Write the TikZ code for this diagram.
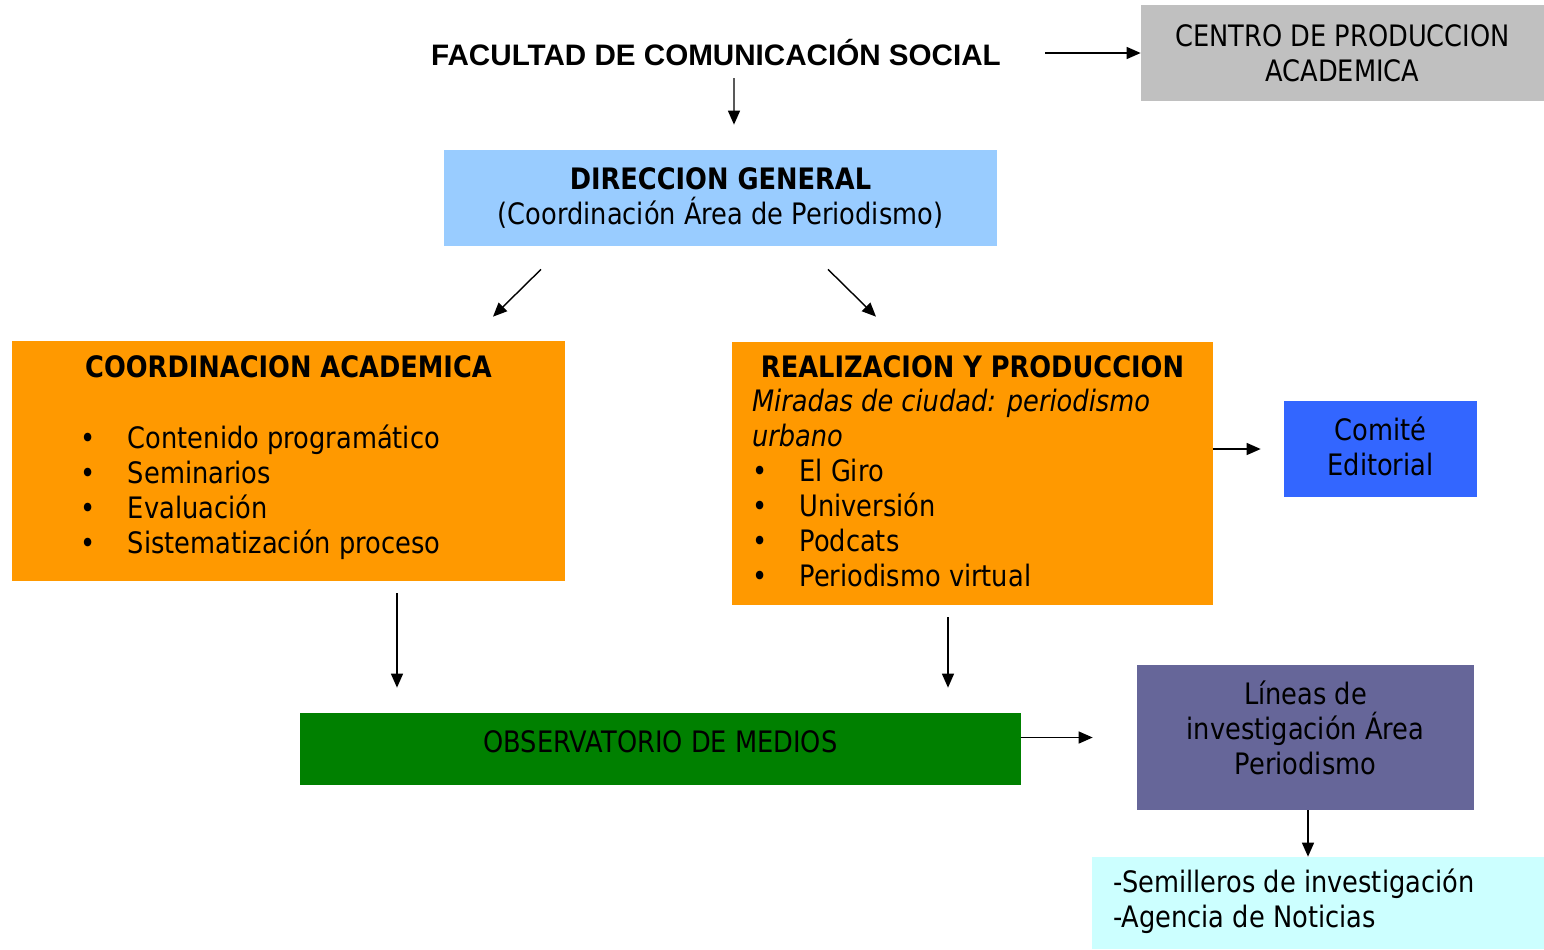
\documentclass[tikz,border=0pt]{standalone}
\usepackage{fontspec}
\setmainfont{DejaVu Sans}[FakeStretch=0.87]
\newfontfamily\titlefont{Liberation Sans}
\usetikzlibrary{arrows.meta, positioning}

\definecolor{grisbox}{HTML}{C0C0C0}
\definecolor{celeste}{HTML}{99CCFF}
\definecolor{naranja}{HTML}{FF9900}
\definecolor{azul}{HTML}{3366FF}
\definecolor{verde}{HTML}{008000}
\definecolor{morado}{HTML}{666699}
\definecolor{cian}{HTML}{CCFFFF}

\tikzset{
    box/.style={
        rectangle, draw=none, inner sep=0pt,
        align=center, font=\bodyfont
    },
    txt/.style={inner sep=0pt, font=\bodyfont},
    link/.style={draw=black, line width=0.8pt, -{Triangle[length=0.28cm, width=0.24cm]}}
}
\newcommand{\bodyfont}{\fontsize{16.8pt}{19.92pt}\selectfont}
\newcommand{\bul}[1]{\makebox[0.95cm][l]{\textbullet}#1}

\begin{document}
\begin{tikzpicture}
\useasboundingbox (0,0) rectangle (30.88,-18.98);

% top
\node[txt, font=\titlefont\bfseries\fontsize{16.85pt}{19pt}\selectfont, anchor=base] (title) at (14.32,-1.30) {FACULTAD DE COMUNICACIÓN SOCIAL};
\node[box, fill=grisbox, minimum width=8.06cm, minimum height=1.92cm] (centro) at (26.85,-1.06) {CENTRO DE PRODUCCION\\ACADEMICA};
\node[box, fill=celeste, minimum width=11.06cm, minimum height=1.92cm] (dir) at (14.41,-3.96) {\bfseries DIRECCION GENERAL\\(Coordinación Área de Periodismo)};

% middle row
\node[box, fill=naranja, minimum width=11.06cm, minimum height=4.80cm] (coord) at (5.77,-9.22) {};
\node[txt, anchor=base] (coordtit) at ([yshift=-0.74cm]coord.north) {\bfseries COORDINACION ACADEMICA};
\node[txt, anchor=base west] (coordlist) at ([xshift=1.37cm, yshift=-2.16cm]coord.north west)
    {\parbox[t]{9cm}{\bodyfont \bul{Contenido programático}\\ \bul{Seminarios}\\ \bul{Evaluación}\\ \bul{Sistematización proceso}}};

\node[box, fill=naranja, minimum width=9.62cm, minimum height=5.26cm] (real) at (19.45,-9.47) {};
\node[txt, anchor=base] (realtit) at ([yshift=-0.72cm]real.north) {\bfseries REALIZACION Y PRODUCCION};
\node[txt, anchor=base west] (reallist) at ([xshift=0.40cm, yshift=-1.40cm]real.north west)
    {\parbox[t]{9cm}{\bodyfont \textit{Miradas de ciudad: periodismo}\\ \textit{urbano}\\ \bul{El Giro}\\ \bul{Universión}\\ \bul{Podcats}\\ \bul{Periodismo virtual}}};

\node[box, fill=azul, minimum width=3.86cm, minimum height=1.92cm,
    label={[txt, align=center, yshift=0.06cm]center:Comité\\Editorial}] (comite) at (27.61,-8.98) {};

% bottom
\node[box, fill=verde, minimum width=14.42cm, minimum height=1.44cm,
    label={[txt, yshift=0.14cm]center:OBSERVATORIO DE MEDIOS}] (obs) at (13.21,-14.98) {};
\node[box, fill=morado, minimum width=6.74cm, minimum height=2.90cm,
    label={[txt, align=center, yshift=0.20cm]center:Líneas de\\investigación Área\\Periodismo}] (lineas) at (26.11,-14.75) {};
\node[box, fill=cian, minimum width=9.04cm, minimum height=1.84cm] (semi) at (26.36,-18.06) {};
\node[txt, anchor=west, align=left] (semitxt) at ([xshift=0.42cm, yshift=0.03cm]semi.west) {-Semilleros de investigación\\-Agencia de Noticias};

% connectors
\draw[link, shorten <=0.88cm] (title.east |- centro.west) -- (centro.west);
\draw[link] ([xshift=0.36cm, yshift=-0.26cm]title.base) -- ([xshift=0.27cm, yshift=0.50cm]dir.north);
\draw[link] ([xshift=-3.59cm, yshift=-0.46cm]dir.south) -- ([xshift=4.09cm, yshift=0.48cm]coord.north);
\draw[link] ([xshift=2.15cm, yshift=-0.46cm]dir.south) -- ([xshift=-1.93cm, yshift=0.50cm]real.north);
\draw[link, shorten >=0.46cm] (real.east |- comite.west) -- (comite.west);
\draw[link, shorten <=0.24cm, shorten >=0.50cm] ([xshift=2.17cm]coord.south) -- ([xshift=2.17cm]coord.south |- obs.north);
\draw[link, shorten <=0.24cm, shorten >=0.50cm] ([xshift=-0.49cm]real.south) -- ([xshift=-0.49cm]real.south |- obs.north);
\draw[link, shorten >=0.88cm] (obs.east |- lineas.west) -- (lineas.west);
\draw[link] ([xshift=0.05cm]lineas.south) -- ([xshift=0.05cm]lineas.south |- semi.north);

\end{tikzpicture}
\end{document}
